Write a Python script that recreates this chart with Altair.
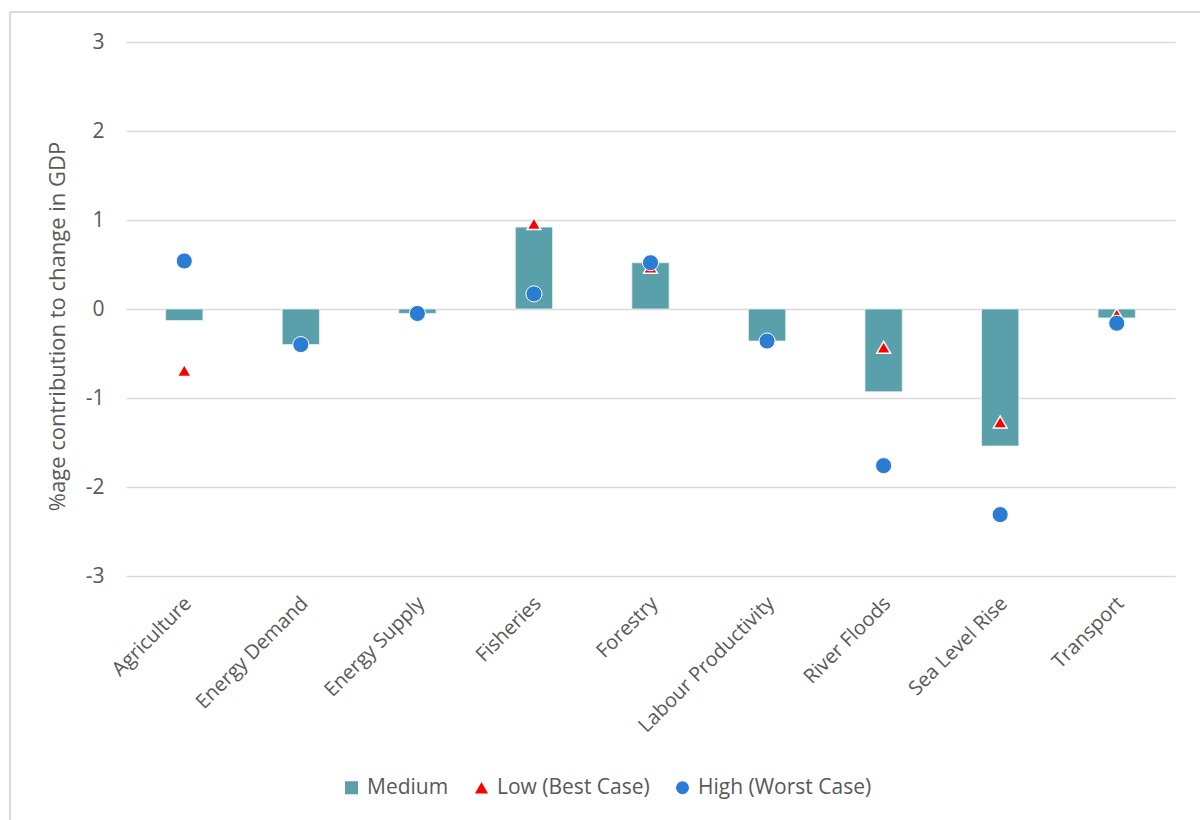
import altair as alt
import pandas as pd

categories = [
    "Agriculture", "Energy Demand", "Energy Supply", "Fisheries", "Forestry",
    "Labour Productivity", "River Floods", "Sea Level Rise", "Transport",
]
medium = [-0.13, -0.40, -0.05, 0.92, 0.52, -0.36, -0.93, -1.54, -0.10]
low = [-0.69, -0.40, -0.05, 0.96, 0.47, -0.36, -0.43, -1.27, -0.06]
high = [0.54, -0.40, -0.05, 0.17, 0.52, -0.36, -1.76, -2.31, -0.16]

series_names = ["Medium", "Low (Best Case)", "High (Worst Case)"]
series_colors = ["#5AA0AA", "#FF0000", "#2B7CD3"]
series_shapes = ["square", "triangle-up", "circle"]

rows = []
for name, vals in zip(series_names, [medium, low, high]):
    for cat, v in zip(categories, vals):
        rows.append({"Sector": cat, "Scenario": name, "Value": v})
df = pd.DataFrame(rows)

FONT = "Open Sans"
TEXT = "#595959"
GRID = "#D9D9D9"

W, H = 1049, 534

color = alt.Color(
    "Scenario:N",
    scale=alt.Scale(domain=series_names, range=series_colors),
    legend=alt.Legend(
        title=None, orient="none", direction="horizontal",
        legendX=215, legendY=735, labelFont=FONT, labelFontSize=21,
        labelColor=TEXT, labelLimit=0, symbolSize=170, columnPadding=22,
        labelOffset=5, symbolStrokeWidth=0,
    ),
)
shape = alt.Shape(
    "Scenario:N",
    scale=alt.Scale(domain=series_names, range=series_shapes),
    legend=None,
)

x_enc = alt.X(
    "Sector:N", sort=categories, title=None,
    scale=alt.Scale(paddingInner=0, paddingOuter=0),
    axis=alt.Axis(
        labelAngle=-45, labelAlign="right", labelBaseline="middle",
        labelPadding=24, labelOffset=4, labelFont=FONT, labelFontSize=20,
        labelColor=TEXT, labelLimit=0, domain=False, ticks=False, grid=False,
    ),
)
y_enc = alt.Y(
    "Value:Q",
    scale=alt.Scale(domain=[-3, 3], nice=False),
    title="%age contribution to change in GDP",
    axis=alt.Axis(
        values=[-3, -2, -1, 0, 1, 2, 3], labelExpr="'' + datum.value",
        labelFont=FONT, labelFontSize=21,
        labelColor=TEXT, labelPadding=22, titleFont=FONT, titleFontSize=22,
        titleColor=TEXT, titleFontWeight="normal", titlePadding=16,
        titleY=284,
        domain=False, ticks=False, gridColor=GRID, gridWidth=1.5,
    ),
)

base = alt.Chart(df).encode(x=x_enc, y=y_enc)

bars = base.transform_filter(alt.datum.Scenario == "Medium").mark_bar(
    width=alt.RelativeBandSize(0.32), stroke="#E8F1F2", strokeWidth=0.8
).encode(color=color)

lows = base.transform_filter(alt.datum.Scenario == "Low (Best Case)").mark_point(
    filled=True, size=190, stroke="white", strokeWidth=1.5, opacity=1
).encode(color=color, shape=shape)

highs = base.transform_filter(alt.datum.Scenario == "High (Worst Case)").mark_point(
    filled=True, size=260, stroke="white", strokeWidth=1, opacity=1
).encode(color=color, shape=shape)

# thin frame around the chart area
frame_top = alt.Chart(df).mark_rule(color=GRID, strokeWidth=1.5).encode(
    x=alt.value(-116), x2=alt.value(1100), y=alt.value(-30)
)
frame_left = alt.Chart(df).mark_rule(color=GRID, strokeWidth=1.5).encode(
    x=alt.value(-116), y=alt.value(-30), y2=alt.value(800)
)

chart = (
    alt.layer(frame_top, frame_left, bars, lows, highs)
    .properties(
        width=W, height=H,
        padding={"left": 126, "top": 42, "right": 25, "bottom": 244},
        autosize=alt.AutoSizeParams(type="none"),
        background="white",
    )
    .configure_view(stroke=None)
)

chart.save("out.html", embed_options={"renderer": "svg", "actions": False})
